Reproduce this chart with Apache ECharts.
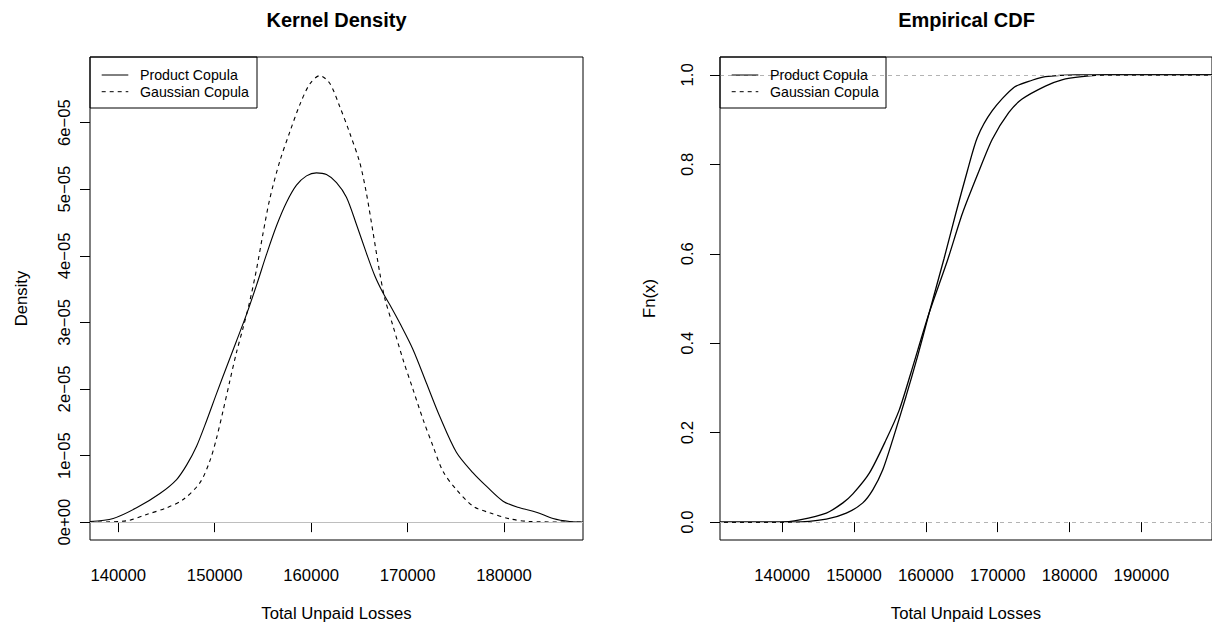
<!DOCTYPE html>
<html>
<head>
<meta charset="utf-8">
<script src="https://cdn.jsdelivr.net/npm/echarts@6/dist/echarts.min.js"></script>
<style>
html,body{margin:0;padding:0;background:#fff;}
#chart{width:1212px;height:627px;}
</style>
</head>
<body>
<div id="chart"></div>
<script>
// ---------- Data ----------
// Kernel density: Product Copula (solid)
const productDensX = [137070, 139480, 141900, 144320, 146050, 147100, 148120, 149150, 150190, 151230, 152260, 153300, 154340, 155370, 156410, 157440, 158480, 159520, 160550, 161590, 162630, 163660, 164700, 165730, 166600, 167460, 168330, 169190, 170570, 171950, 173330, 175060, 176790, 178170, 179900, 181620, 183350, 185080, 186810, 188190];
const productDensY = [0.01e-5, 0.055e-5, 0.215e-5, 0.43e-5, 0.64e-5, 0.86e-5, 1.14e-5, 1.52e-5, 1.93e-5, 2.33e-5, 2.72e-5, 3.12e-5, 3.56e-5, 4.02e-5, 4.45e-5, 4.80e-5, 5.06e-5, 5.20e-5, 5.245e-5, 5.22e-5, 5.10e-5, 4.88e-5, 4.47e-5, 4.04e-5, 3.70e-5, 3.44e-5, 3.22e-5, 2.99e-5, 2.59e-5, 2.09e-5, 1.59e-5, 1.05e-5, 0.74e-5, 0.54e-5, 0.315e-5, 0.215e-5, 0.15e-5, 0.055e-5, 0.01e-5, 0.003e-5];
// Kernel density: Gaussian Copula (dashed)
const gaussDensX = [137070, 140860, 142940, 145010, 146740, 148460, 149500, 150190, 150880, 151570, 152260, 152950, 153640, 154340, 155030, 155720, 156750, 157790, 158830, 159860, 160900, 161930, 162970, 164010, 165040, 165730, 166430, 167120, 167630, 168500, 169530, 170570, 171610, 172640, 173680, 175060, 176790, 178520, 180590, 182660, 188190];
const gaussDensY = [0, 0.02e-5, 0.115e-5, 0.215e-5, 0.34e-5, 0.59e-5, 0.92e-5, 1.26e-5, 1.68e-5, 2.12e-5, 2.55e-5, 2.92e-5, 3.32e-5, 3.80e-5, 4.35e-5, 4.86e-5, 5.42e-5, 5.86e-5, 6.27e-5, 6.58e-5, 6.705e-5, 6.59e-5, 6.24e-5, 5.84e-5, 5.40e-5, 4.94e-5, 4.34e-5, 3.74e-5, 3.365e-5, 2.94e-5, 2.44e-5, 1.99e-5, 1.54e-5, 1.14e-5, 0.76e-5, 0.49e-5, 0.24e-5, 0.14e-5, 0.05e-5, 0.01e-5, 0];
// Empirical CDF: Product Copula
const productCdfX = [131350, 139680, 142450, 146140, 148450, 149840, 152150, 154460, 156300, 157920, 160460, 163000, 165080, 167390, 169240, 171550, 173390, 176630, 178940, 181710, 184940, 199820];
const productCdfY = [0, 0, 0.005, 0.020, 0.043, 0.063, 0.110, 0.184, 0.251, 0.334, 0.468, 0.585, 0.690, 0.785, 0.856, 0.916, 0.946, 0.975, 0.989, 0.996, 1, 1];
// Empirical CDF: Gaussian Copula
const gaussCdfX = [131350, 141520, 146140, 148920, 151220, 152610, 154000, 155380, 157230, 158850, 160460, 162540, 164160, 165770, 167160, 169240, 172240, 174780, 176630, 180790, 199820];
const gaussCdfY = [0, 0, 0.0067, 0.020, 0.043, 0.072, 0.117, 0.184, 0.281, 0.371, 0.468, 0.590, 0.690, 0.785, 0.860, 0.920, 0.972, 0.988, 0.996, 1, 1];

// Tick values / labels
const densXTicks = [140000, 150000, 160000, 170000, 180000];
const densYTicks = [0, 1e-5, 2e-5, 3e-5, 4e-5, 5e-5, 6e-5];
const densYTickLabels = ['0e+00', '1e\u221205', '2e\u221205', '3e\u221205', '4e\u221205', '5e\u221205', '6e\u221205'];
const cdfXTicks = [140000, 150000, 160000, 170000, 180000, 190000];
const cdfYTicks = [0, 0.2, 0.4, 0.6, 0.8, 1.0];
const cdfYTickLabels = ['0.0', '0.2', '0.4', '0.6', '0.8', '1.0'];

const seriesNames = ['Product Copula', 'Gaussian Copula'];
const titles = ['Kernel Density', 'Empirical CDF'];
const xTitle = 'Total Unpaid Losses';
const yTitles = ['Density', 'Fn(x)'];

// ---------- Chart ----------
const FONT = '"Liberation Sans", Arial, Helvetica, sans-serif';
const zip = (xs, ys) => xs.map((x, i) => [x, ys[i]]);
const pick = (ticks, labels) => v => {
  const i = ticks.findIndex(t => Math.abs(t - v) < 1e-9 * Math.max(1, Math.abs(t)) + 1e-12);
  return i >= 0 ? labels[i] : '';
};

const G = [
  {left: 90, top: 57, width: 493, height: 483},
  {left: 720, top: 57, width: 493, height: 483}
];

function xAxis(gi, min, max, ticks) {
  return {
    type: 'value', gridIndex: gi, min: min, max: max,
    name: xTitle, nameLocation: 'middle', nameGap: 65,
    nameTextStyle: {fontFamily: FONT, fontSize: 16.7, color: '#000'},
    axisLine: {show: false},
    splitLine: {show: false},
    axisTick: {show: true, length: 10, lineStyle: {color: '#000', width: 1}, customValues: ticks},
    axisLabel: {show: true, margin: 27, fontFamily: FONT, fontSize: 16.7, color: '#000', customValues: ticks,
      formatter: v => String(Math.round(v))}
  };
}
function yAxis(gi, min, max, ticks, labels, name, margin, nameGap) {
  return {
    type: 'value', gridIndex: gi, min: min, max: max,
    name: name, nameLocation: 'middle', nameGap: nameGap, nameRotate: 90,
    nameTextStyle: {fontFamily: FONT, fontSize: 16.7, color: '#000'},
    axisLine: {show: false},
    splitLine: {show: false},
    axisTick: {show: true, length: 10, lineStyle: {color: '#000', width: 1}, customValues: ticks},
    axisLabel: {show: true, rotate: 90, margin: margin, fontFamily: FONT, fontSize: 16.7, color: '#000', customValues: ticks,
      formatter: pick(ticks, labels)}
  };
}

function legendGraphic(x, y, w, h) {
  const ly1 = y + 18, ly2 = y + 34.7;
  return [
    {type: 'rect', shape: {x: x, y: y, width: w, height: h}, style: {fill: null, stroke: '#000', lineWidth: 1}, silent: true, z: 100},
    {type: 'line', shape: {x1: x + 11.7, y1: ly1, x2: x + 38.3, y2: ly1}, style: {stroke: '#000', lineWidth: 1}, silent: true, z: 100},
    {type: 'line', shape: {x1: x + 11.7, y1: ly2, x2: x + 38.3, y2: ly2}, style: {stroke: '#000', lineWidth: 1, lineDash: [4, 4]}, silent: true, z: 100},
    {type: 'text', x: x + 50, y: ly1, style: {text: seriesNames[0], font: '14.2px ' + FONT, fill: '#000', textVerticalAlign: 'middle', verticalAlign: 'middle'}, silent: true, z: 100},
    {type: 'text', x: x + 50, y: ly2, style: {text: seriesNames[1], font: '14.2px ' + FONT, fill: '#000', textVerticalAlign: 'middle', verticalAlign: 'middle'}, silent: true, z: 100}
  ];
}

const lineBase = {type: 'line', showSymbol: false, z: 3, silent: true};

const option = {
  animation: false,
  backgroundColor: '#fff',
  textStyle: {fontFamily: FONT},
  grid: G.map(g => Object.assign({show: true, borderColor: '#000', borderWidth: 1, backgroundColor: 'transparent', containLabel: false}, g)),
  xAxis: [
    xAxis(0, 137070, 188190, densXTicks),
    xAxis(1, 131347, 199819, cdfXTicks)
  ],
  yAxis: [
    yAxis(0, -0.268e-5, 6.985e-5, densYTicks, densYTickLabels, yTitles[0], 17, 60),
    yAxis(1, -0.04, 1.04, cdfYTicks, cdfYTickLabels, yTitles[1], 24, 62)
  ],
  graphic: [
    {type: 'text', x: 336.5, y: 20, style: {text: titles[0], font: 'bold 20px ' + FONT, fill: '#000', textAlign: 'center', textVerticalAlign: 'middle', align: 'center', verticalAlign: 'middle'}, silent: true},
    {type: 'text', x: 966.5, y: 20, style: {text: titles[1], font: 'bold 20px ' + FONT, fill: '#000', textAlign: 'center', textVerticalAlign: 'middle', align: 'center', verticalAlign: 'middle'}, silent: true}
  ].concat(legendGraphic(90, 57, 167, 51)).concat(legendGraphic(720, 57, 166, 51)),
  series: [
    // reference lines
    {type: 'line', xAxisIndex: 0, yAxisIndex: 0, data: [], silent: true, z: 1,
      markLine: {silent: true, symbol: ['none', 'none'], label: {show: false},
        lineStyle: {color: '#bebebe', type: 'solid', width: 1}, data: [{yAxis: 0}]}},
    {type: 'line', xAxisIndex: 1, yAxisIndex: 1, data: [], silent: true, z: 1,
      markLine: {silent: true, symbol: ['none', 'none'], label: {show: false},
        lineStyle: {color: '#b3b3b3', type: [4, 4], width: 1}, data: [{yAxis: 0}, {yAxis: 1}]}},
    // density
    Object.assign({}, lineBase, {name: seriesNames[0], xAxisIndex: 0, yAxisIndex: 0, data: zip(productDensX, productDensY),
      smooth: 0.3, lineStyle: {color: '#000', width: 1.1, type: 'solid'}}),
    Object.assign({}, lineBase, {name: seriesNames[1], xAxisIndex: 0, yAxisIndex: 0, data: zip(gaussDensX, gaussDensY),
      smooth: 0.3, lineStyle: {color: '#000', width: 1.1, type: [4, 4]}}),
    // ECDF
    Object.assign({}, lineBase, {name: seriesNames[0], xAxisIndex: 1, yAxisIndex: 1, data: zip(productCdfX, productCdfY),
      smooth: 0.25, lineStyle: {color: '#000', width: 1.3, type: 'solid'}}),
    Object.assign({}, lineBase, {name: seriesNames[1], xAxisIndex: 1, yAxisIndex: 1, data: zip(gaussCdfX, gaussCdfY),
      smooth: 0.25, lineStyle: {color: '#000', width: 1.3, type: 'solid'}})
  ]
};

const chart = echarts.init(document.getElementById('chart'), null, {renderer: 'svg'});
chart.setOption(option);
</script>
</body>
</html>
